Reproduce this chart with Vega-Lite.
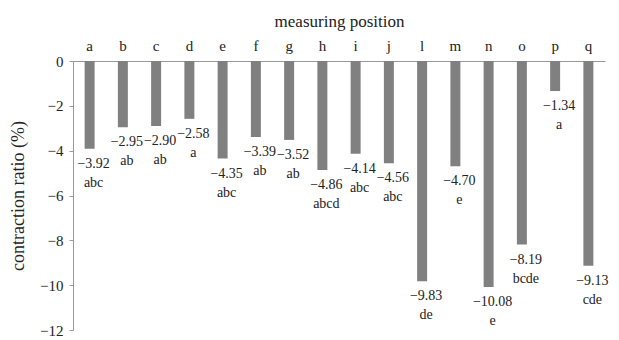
{
  "$schema": "https://vega.github.io/schema/vega-lite/v6.json",
  "width": 532,
  "height": 269,
  "autosize": {"type": "none"},
  "padding": {"left": 73, "top": 61, "right": 14, "bottom": 10},
  "background": "white",
  "config": {
    "view": {"stroke": null},
    "font": "Liberation Serif",
    "axis": {"labelFont": "Liberation Serif", "titleFont": "Liberation Serif", "labelColor": "#222", "titleColor": "#222", "domainColor": "#999", "tickColor": "#999", "grid": false}
  },
  "data": {
    "values": [
      {"pos": "a", "ratio": -3.92, "group": "abc"},
      {"pos": "b", "ratio": -2.95, "group": "ab"},
      {"pos": "c", "ratio": -2.90, "group": "ab"},
      {"pos": "d", "ratio": -2.58, "group": "a"},
      {"pos": "e", "ratio": -4.35, "group": "abc"},
      {"pos": "f", "ratio": -3.39, "group": "ab"},
      {"pos": "g", "ratio": -3.52, "group": "ab"},
      {"pos": "h", "ratio": -4.86, "group": "abcd"},
      {"pos": "i", "ratio": -4.14, "group": "abc"},
      {"pos": "j", "ratio": -4.56, "group": "abc"},
      {"pos": "l", "ratio": -9.83, "group": "de"},
      {"pos": "m", "ratio": -4.70, "group": "e"},
      {"pos": "n", "ratio": -10.08, "group": "e"},
      {"pos": "o", "ratio": -8.19, "group": "bcde"},
      {"pos": "p", "ratio": -1.34, "group": "a"},
      {"pos": "q", "ratio": -9.13, "group": "cde"}
    ]
  },
  "encoding": {
    "x": {
      "field": "pos", "type": "nominal", "sort": null,
      "scale": {"paddingInner": 0.7, "paddingOuter": 0.35},
      "axis": {"orient": "top", "title": "measuring position", "titleFontSize": 17, "titleFontWeight": "normal", "titlePadding": 8, "labelAngle": 0, "labelFontSize": 15, "labelPadding": 8, "ticks": false, "domainColor": "#999"}
    },
    "y": {
      "field": "ratio", "type": "quantitative",
      "scale": {"domain": [-12, 0], "nice": false},
      "axis": {"title": "contraction ratio (%)", "titleFontSize": 18, "titleFontWeight": "normal", "titlePadding": 12, "values": [0, -2, -4, -6, -8, -10, -12], "format": "d", "labelFontSize": 15, "labelPadding": 6, "tickSize": 4, "domain": true}
    }
  },
  "layer": [
    {"mark": {"type": "bar", "color": "#808080"}},
    {
      "mark": {"type": "text", "baseline": "top", "align": "center", "dy": 8, "dx": 4, "fontSize": 14, "color": "#222"},
      "encoding": {"text": {"field": "ratio", "type": "quantitative", "format": ".2f"}}
    },
    {
      "mark": {"type": "text", "baseline": "top", "align": "center", "dy": 27, "dx": 4, "fontSize": 14, "color": "#222"},
      "encoding": {"text": {"field": "group", "type": "nominal"}}
    }
  ]
}
